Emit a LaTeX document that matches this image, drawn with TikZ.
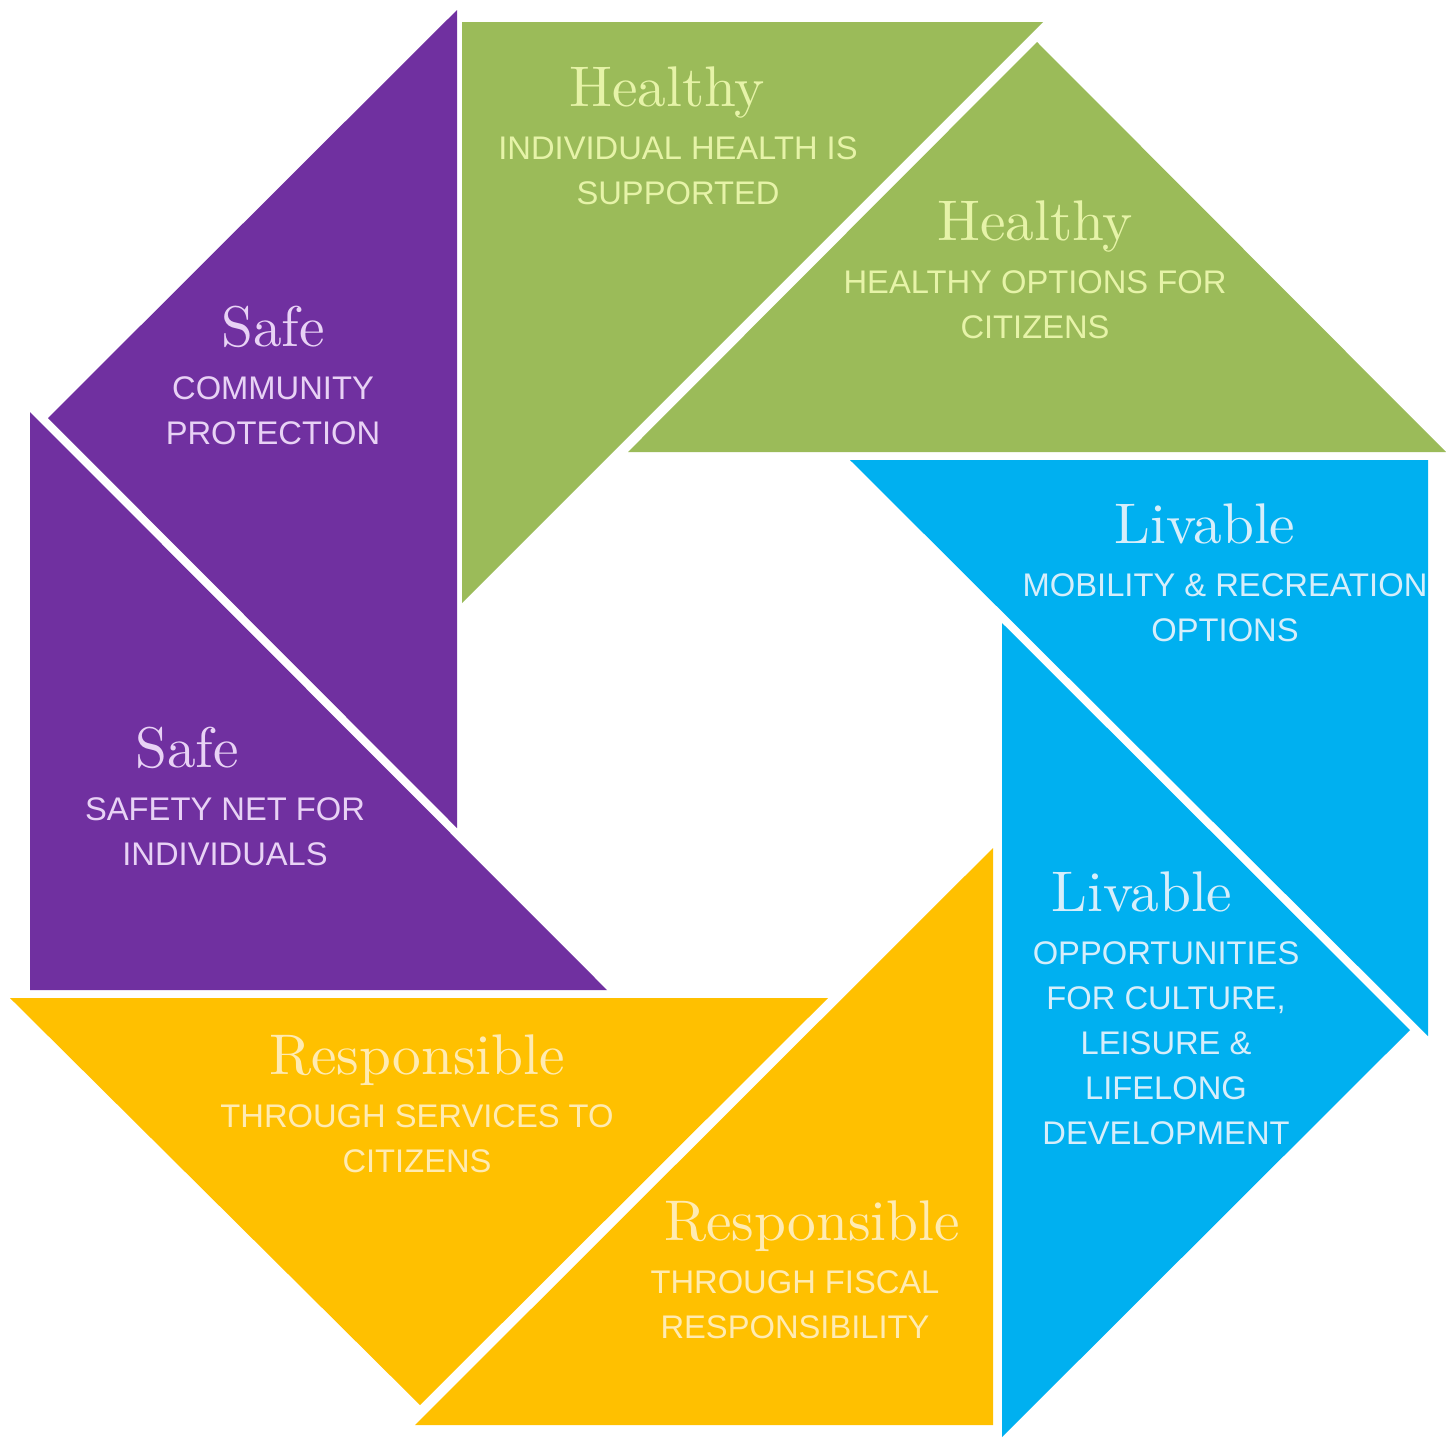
\documentclass[tikz,border=0pt]{standalone}
\usepackage{fontspec}
\newfontfamily\capsfont{Liberation Sans}
\usetikzlibrary{positioning}

\definecolor{healthgreen}{HTML}{9BBB59}
\definecolor{healthtext}{HTML}{E6F3A8}
\definecolor{liveblue}{HTML}{00B0F0}
\definecolor{livetext}{HTML}{D6EEFB}
\definecolor{respyellow}{HTML}{FFC000}
\definecolor{resptext}{HTML}{FFEBB2}
\definecolor{safepurple}{HTML}{7030A0}
\definecolor{safetext}{HTML}{E8D2F5}

% headings: the 10pt cut, blown up
\newcommand\bigword[1]{\scalebox{1.63}{#1}}

\begin{document}
\begin{tikzpicture}[x=0.01cm, y=-0.01cm,
	title/.style   = {font=\fontsize{10}{12}\selectfont, inner sep=0pt, anchor=base},
	caption/.style = {font=\capsfont\fontsize{9.3}{12.8}\selectfont, align=center, inner sep=0pt},
	healthy/.style = {text=healthtext},
	livable/.style = {text=livetext},
	respons/.style = {text=resptext},
	safe/.style    = {text=safetext}]

	\useasboundingbox[fill=white] (0,0) rectangle (1446,1438);

	% the eight pieces, two per colour, turning round the middle
	\fill[healthgreen] (462,22) -- (1043,22) -- (462,603) -- cycle;
	\fill[healthgreen] (1037,42) -- (1446,452) -- (628,452) -- cycle;
	\fill[liveblue] (850,460) -- (1428,460) -- (1428,1036) -- cycle;
	\fill[liveblue] (1002,623) -- (1410,1030) -- (1002,1437) -- cycle;
	\fill[respyellow] (993,848) -- (993,1425) -- (415,1425) -- cycle;
	\fill[respyellow] (10,998) -- (828,998) -- (420,1405) -- cycle;
	\fill[safepurple] (30,412) -- (30,990) -- (607,990) -- cycle;
	\fill[safepurple] (457,10) -- (457,828) -- (48,418) -- cycle;

	% Healthy
	\begin{scope}[every node/.append style={healthy}]
	\node[title] (h1) at (667,106) {\bigword{Healthy}};
	\node[caption, below=8.5pt of h1.base, xshift=0.11cm] (h1c) {INDIVIDUAL HEALTH IS\\SUPPORTED};
	\node[title] (h2) at (1035,240) {\bigword{Healthy}};
	\node[caption, below=8.5pt of h2.base] (h2c) {HEALTHY OPTIONS FOR\\CITIZENS};
	\end{scope}

	% Livable, the first caption runs into the right edge
	\begin{scope}[every node/.append style={livable}]
	\clip (850,460) -- (1428,460) -- (1428,1036) -- cycle;
	\node[title] (l1) at (1205,543) {\bigword{Livable}};
	\node[caption, below=8.5pt of l1.base, xshift=0.2cm] (l1c) {MOBILITY \& RECREATION\\OPTIONS};
	\end{scope}
	\begin{scope}[every node/.append style={livable}]
	\node[title] (l2) at (1142,911) {\bigword{Livable}};
	\node[caption, below=8.5pt of l2.base, xshift=0.24cm] (l2c) {OPPORTUNITIES\\FOR CULTURE,\\LEISURE \&\\LIFELONG\\DEVELOPMENT};
	\end{scope}

	% Responsible
	\begin{scope}[every node/.append style={respons}]
	\node[title] (r1) at (417,1074) {\bigword{Responsible}};
	\node[caption, below=8.5pt of r1.base] (r1c) {THROUGH SERVICES TO\\CITIZENS};
	\node[title] (r2) at (812,1240) {\bigword{Responsible}};
	\node[caption, below=8.5pt of r2.base, xshift=-0.17cm] (r2c) {THROUGH FISCAL\\RESPONSIBILITY};
	\end{scope}

	% Safe
	\begin{scope}[every node/.append style={safe}]
	\node[title] (s1) at (273,346) {\bigword{Safe}};
	\node[caption, below=8.5pt of s1.base] (s1c) {COMMUNITY\\PROTECTION};
	\node[title] (s2) at (187,767) {\bigword{Safe}};
	\node[caption, below=8.5pt of s2.base, xshift=0.38cm] (s2c) {SAFETY NET FOR\\INDIVIDUALS};
	\end{scope}

\end{tikzpicture}
\end{document}
